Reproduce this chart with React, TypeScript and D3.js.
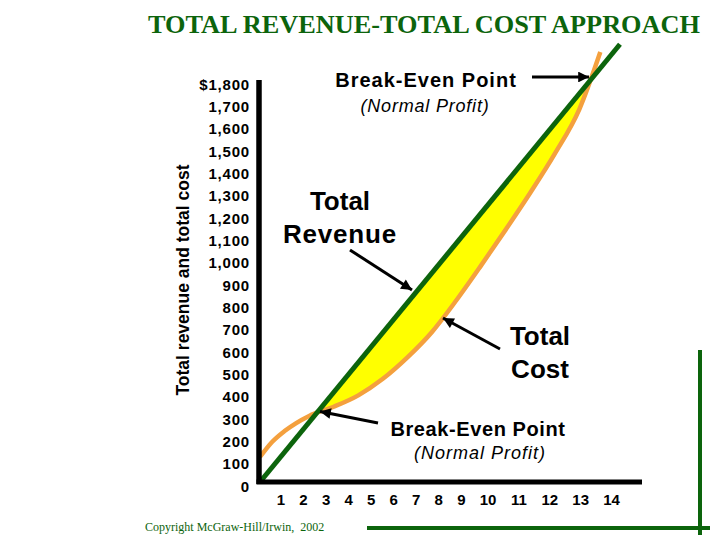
import React from 'react'
import * as d3 from 'd3'

// values
const yTicks = [0, 100, 200, 300, 400, 500, 600, 700, 800, 900, 1000, 1100, 1200, 1300, 1400, 1500, 1600, 1700, 1800]
const xTickLabels = ['1', '2', '3', '4', '5', '6', '7', '8', '9', '10', '11', '12', '13', '14']

// total revenue (straight line)
const revenueQty = [0, 14.65]
const revenueVal = [0, 1960]

// total cost (S-shaped curve)
const costQty = [0, 0.5, 1, 2, 3, 4, 5, 6, 7, 8, 9, 10, 11, 12, 13, 13.85]
const costVal = [112, 180, 228, 296, 337, 388, 462, 558, 672, 815, 970, 1130, 1295, 1470, 1670, 1925]

// the two break-even points
const breakEvenQty = [2.36, 13.43]
const breakEvenVal = [316, 1800]

const W = 720
const H = 540
const sans = "'Liberation Sans', Arial, sans-serif"
const serif = "'Liberation Serif', 'Times New Roman', serif"
const green = '#0c640c'
const orange = '#f4a03e'

export default function App() {
  const x = d3.scaleLinear().domain([0, 14]).range([260, 604])
  const y = d3.scaleLinear().domain([0, 1800]).range([482, 80])

  const revenue = revenueQty.map((q, i) => [q, revenueVal[i]] as [number, number])
  const cost = costQty.map((q, i) => [q, costVal[i]] as [number, number])

  const line = d3
    .line<[number, number]>()
    .x((d) => x(d[0]))
    .y((d) => y(d[1]))
    .curve(d3.curveMonotoneX)

  // region above the cost curve, clipped to the region below revenue
  const aboveCost = d3
    .area<[number, number]>()
    .x((d) => x(d[0]))
    .y0((d) => y(d[1]))
    .y1(0)
    .curve(d3.curveMonotoneX)
  const belowRevenue = d3
    .area<[number, number]>()
    .x((d) => x(d[0]))
    .y0((d) => y(d[1]))
    .y1(y(0))

  // x tick labels laid out like a spaced text row
  const digitW = 8.34
  const gap = 14.2
  const xTickPos: number[] = []
  xTickLabels.forEach((t, i) => {
    if (i === 0) xTickPos.push(281)
    else {
      const prev = xTickLabels[i - 1]
      xTickPos.push(xTickPos[i - 1] + (prev.length * digitW) / 2 + gap + (t.length * digitW) / 2)
    }
  })

  const be1 = [x(breakEvenQty[0]), y(breakEvenVal[0])]
  const be2 = [x(breakEvenQty[1]), y(breakEvenVal[1])]

  return (
    <svg width={W} height={H} style={{ position: 'absolute', left: 0, top: 0, background: '#fff' }}>
      <defs>
        <marker id="arrow" viewBox="0 0 10 10" refX="10" refY="5" markerWidth="4.2" markerHeight="3.6" orient="auto">
          <path d="M0,0 L10,5 L0,10 z" fill="#000" />
        </marker>
        <clipPath id="belowTR">
          <path d={belowRevenue(revenue) || ''} />
        </clipPath>
      </defs>

      {/* title */}
      <text
        x={148}
        y={33}
        fontFamily={serif}
        fontWeight="bold"
        fontSize={26}
        fill={green}
        textLength={552}
        lengthAdjust="spacingAndGlyphs"
      >
        TOTAL REVENUE-TOTAL COST APPROACH
      </text>

      {/* profit area */}
      <path d={aboveCost(cost) || ''} fill="#ffff00" clipPath="url(#belowTR)" />

      {/* curves */}
      <path d={line(cost) || ''} fill="none" stroke={orange} strokeWidth={4.5} />
      <path d={line(revenue) || ''} fill="none" stroke={green} strokeWidth={5} />

      {/* axes */}
      <line x1={259} x2={259} y1={y(1800)} y2={484} stroke="#000" strokeWidth={5.5} />
      <line x1={256.5} x2={642} y1={482} y2={482} stroke="#000" strokeWidth={5} />

      {yTicks.map((v) => (
        <text
          key={v}
          x={250}
          y={y(v) + 9.5}
          textAnchor="end"
          fontFamily={sans}
          fontWeight="bold"
          fontSize={15}
          letterSpacing={0.8}
        >
          {(v === 1800 ? '$' : '') + d3.format(',')(v)}
        </text>
      ))}
      {xTickLabels.map((t, i) => (
        <text key={t} x={xTickPos[i]} y={505} textAnchor="middle" fontFamily={sans} fontWeight="bold" fontSize={15}>
          {t}
        </text>
      ))}

      <text
        transform="translate(189,280) rotate(-90)"
        textAnchor="middle"
        fontFamily={sans}
        fontWeight="bold"
        fontSize={17.5}
      >
        Total revenue and total cost
      </text>

      {/* annotations */}
      <g fontFamily={sans} fill="#000">
        <text x={426} y={87} textAnchor="middle" fontWeight="bold" fontSize={20} letterSpacing={1}>
          Break-Even Point
        </text>
        <text x={425} y={112} textAnchor="middle" fontStyle="italic" fontSize={18} letterSpacing={0.8}>
          (Normal Profit)
        </text>
        <text x={478} y={436} textAnchor="middle" fontWeight="bold" fontSize={20} letterSpacing={0.6}>
          Break-Even Point
        </text>
        <text x={480} y={459} textAnchor="middle" fontStyle="italic" fontSize={18} letterSpacing={1}>
          (Normal Profit)
        </text>
        <text x={340} y={210} textAnchor="middle" fontWeight="bold" fontSize={26}>
          Total
        </text>
        <text x={340} y={243} textAnchor="middle" fontWeight="bold" fontSize={26} letterSpacing={0.8}>
          Revenue
        </text>
        <text x={540} y={345} textAnchor="middle" fontWeight="bold" fontSize={26}>
          Total
        </text>
        <text x={540} y={378} textAnchor="middle" fontWeight="bold" fontSize={26}>
          Cost
        </text>
      </g>
      <g stroke="#000" strokeWidth={3} markerEnd="url(#arrow)">
        <line x1={532} y1={be2[1] - 3} x2={be2[0] - 1} y2={be2[1] - 3} />
        <line x1={378} y1={423} x2={be1[0] + 2} y2={be1[1]} />
        <line x1={350} y1={250} x2={412} y2={290} />
        <line x1={500} y1={349} x2={443} y2={318} />
      </g>

      {/* decorative frame */}
      <line x1={700} x2={700} y1={350} y2={535} stroke={green} strokeWidth={4} />
      <line x1={367} x2={710} y1={528} y2={528} stroke={green} strokeWidth={4} />

      <text x={145} y={531} fontFamily={serif} fontSize={12} fill={green} style={{ whiteSpace: 'pre' }}>
        {'Copyright McGraw-Hill/Irwin,  2002'}
      </text>
    </svg>
  )
}
